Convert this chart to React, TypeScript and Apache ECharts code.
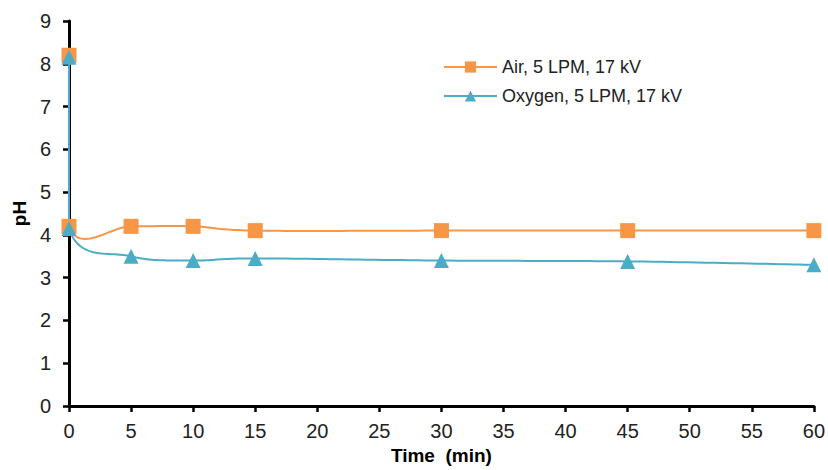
import React, { useEffect, useRef } from "react";
import * as echarts from "echarts";

const times = [0, 0, 5, 10, 15, 30, 45, 60];
const airValues = [8.2, 4.2, 4.2, 4.2, 4.1, 4.1, 4.1, 4.1];
const oxygenValues = [8.15, 4.15, 3.5, 3.4, 3.45, 3.4, 3.38, 3.3];
const seriesNames = ["Air, 5 LPM, 17 kV", "Oxygen, 5 LPM, 17 kV"];
const colors = ["#F79646", "#4BACC6"];

const FONT = "'Liberation Sans', Arial, sans-serif";

// Excel-style (Catmull-Rom) smoothed curve, sampled in pixel space
function smoothPoints(pts: number[][]): number[][] {
  const out: number[][] = [];
  const n = pts.length;
  for (let i = 0; i < n - 1; i++) {
    const p0 = pts[Math.max(i - 1, 0)];
    const p1 = pts[i];
    const p2 = pts[i + 1];
    const p3 = pts[Math.min(i + 2, n - 1)];
    if (i === 0) out.push(p1);
    if (Math.abs(p1[0] - p2[0]) < 0.5) {
      out.push(p2);
      continue;
    }
    const c1 = [p1[0] + (p2[0] - p0[0]) / 6, p1[1] + (p2[1] - p0[1]) / 6];
    const c2 = [p2[0] - (p3[0] - p1[0]) / 6, p2[1] - (p3[1] - p1[1]) / 6];
    const steps = 24;
    for (let s = 1; s <= steps; s++) {
      const t = s / steps;
      const u = 1 - t;
      const x = u * u * u * p1[0] + 3 * u * u * t * c1[0] + 3 * u * t * t * c2[0] + t * t * t * p2[0];
      const y = u * u * u * p1[1] + 3 * u * u * t * c1[1] + 3 * u * t * t * c2[1] + t * t * t * p2[1];
      out.push([Math.max(x, p1[0]), y]);
    }
  }
  return out;
}

function curveSeries(name: string, values: number[], color: string) {
  return {
    name,
    type: "custom",
    coordinateSystem: "cartesian2d",
    data: [[times[0], values[0]]],
    z: 2,
    silent: true,
    renderItem: (_params: any, api: any) => {
      const pts = times.map((t, i) => api.coord([t, values[i]]));
      return {
        type: "polyline",
        shape: { points: smoothPoints(pts) },
        style: { stroke: color, lineWidth: 2, fill: null },
      };
    },
  };
}

export default function App() {
  const ref = useRef<HTMLDivElement>(null);
  useEffect(() => {
    if (!ref.current) return;
    const chart = echarts.init(ref.current, null, { renderer: "svg" });
    const axisCommon = {
      axisLine: { show: true, lineStyle: { color: "#000", width: 3 } },
      axisTick: { show: true, inside: false, length: 6, lineStyle: { color: "#000", width: 2.5 } },
      splitLine: { show: false },
      axisLabel: { color: "#222", fontSize: 20, fontFamily: FONT },
      nameTextStyle: { color: "#000", fontSize: 19, fontWeight: "bold", fontFamily: FONT },
    };
    chart.setOption({
      animation: false,
      backgroundColor: "#fff",
      grid: { left: 69, right: 13, top: 21, bottom: 63, containLabel: false },
      legend: {
        orient: "vertical",
        left: 438,
        top: 53,
        itemWidth: 53,
        itemHeight: 14,
        itemGap: 11,
        data: seriesNames.map((n) => ({ name: n, lineStyle: { opacity: 1 } })),
        textStyle: { color: "#222", fontSize: 18, fontFamily: FONT },
      },
      xAxis: {
        type: "value",
        min: 0,
        max: 60,
        interval: 5,
        name: "Time  (min)",
        nameLocation: "middle",
        nameGap: 40,
        ...axisCommon,
        axisLabel: { ...axisCommon.axisLabel, margin: 15 },
      },
      yAxis: {
        type: "value",
        min: 0,
        max: 9,
        interval: 1,
        name: "pH",
        nameLocation: "middle",
        nameGap: 40,
        nameRotate: 90,
        ...axisCommon,
        axisLabel: { ...axisCommon.axisLabel, margin: 18 },
      },
      series: [
        curveSeries("airCurve", airValues, colors[0]),
        curveSeries("oxygenCurve", oxygenValues, colors[1]),
        {
          name: seriesNames[0],
          type: "line",
          z: 3,
          data: times.map((t, i) => [t, airValues[i]]),
          symbol: "rect",
          symbolSize: 15,
          itemStyle: { color: colors[0] },
          lineStyle: { color: colors[0], width: 2, opacity: 0 },
        },
        {
          name: seriesNames[1],
          type: "line",
          z: 4,
          data: times.map((t, i) => [t, oxygenValues[i]]),
          symbol: "triangle",
          symbolSize: 15,
          itemStyle: { color: colors[1] },
          lineStyle: { color: colors[1], width: 2, opacity: 0 },
        },
      ],
    });
    return () => chart.dispose();
  }, []);
  return <div ref={ref} style={{ width: 828, height: 470, position: "absolute", left: 0, top: 0 }} />;
}
